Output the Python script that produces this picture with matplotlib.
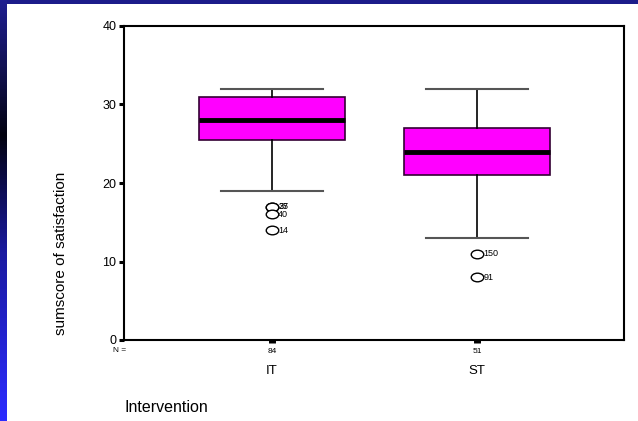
import matplotlib
matplotlib.use('Agg')
import matplotlib.pyplot as plt
import numpy as np
from matplotlib.path import Path
from matplotlib.transforms import Affine2D
from matplotlib.colors import LinearSegmentedColormap

plt.rcParams['font.family'] = ['Liberation Sans', 'DejaVu Sans']

# data
groups = ['IT', 'ST']
n_cases = [84, 51]
q1 = [25.5, 21]
medians = [28, 24]
q3 = [31, 27]
whisk_lo = [19, 13]
whisk_hi = [32, 32]
outliers = [[17, 17, 16, 14], [11, 8]]
outlier_ids = [['27', '35', '40', '14'], ['150', '91']]

W, H = 638, 421
fig = plt.figure(figsize=(W / 100, H / 100), dpi=100)
fig.patch.set_facecolor('white')

# blue slide frame: top strip and left gradient strip
top = fig.add_axes([0, 1 - 4 / H, 1, 4 / H])
top.set_axis_off()
top.add_patch(plt.Rectangle((0, 0), 1, 1, color='#1c1c8a', transform=top.transAxes))
left = fig.add_axes([0, 0, 7 / W, 1])
left.set_axis_off()
cmap = LinearSegmentedColormap.from_list(
    'frame', [(0, '#1e1e90'), (0.18, '#10104a'), (0.32, '#020210'),
              (0.6, '#1a1aa0'), (1, '#2c2cff')])
left.imshow(np.linspace(0, 1, 200).reshape(-1, 1), cmap=cmap, aspect='auto',
            extent=[0, 1, 1, 0])

ax = fig.add_axes([124 / W, 1 - 340 / H, 500 / W, 314 / H])

stats = []
for i in range(len(groups)):
    stats.append({'med': medians[i], 'q1': q1[i], 'q3': q3[i],
                  'whislo': whisk_lo[i], 'whishi': whisk_hi[i],
                  'fliers': outliers[i], 'label': groups[i]})

# ellipse marker for outliers
ell = Path.unit_circle().transformed(Affine2D().scale(1.45, 1))

ax.bxp(stats, positions=[1, 2], widths=0.71, patch_artist=True,
       boxprops=dict(facecolor='#ff00ff', edgecolor='#330033', linewidth=1.2),
       medianprops=dict(color='black', linewidth=3.5),
       whiskerprops=dict(color='black', linewidth=1.2),
       capprops=dict(color='#555555', linewidth=1.5),
       capwidths=0.5,
       flierprops=dict(marker=ell, markersize=9, markerfacecolor='white',
                       markeredgecolor='black', markeredgewidth=1.0))

# case numbers next to outliers
for i in range(len(groups)):
    for v, lab in zip(outliers[i], outlier_ids[i]):
        ax.annotate(lab, (i + 1, v), xytext=(4.5, 0), textcoords='offset points',
                    ha='left', va='center', fontsize=6.5)

ax.set_xlim(0.278, 2.717)
ax.set_ylim(0, 40)
ax.set_yticks([0, 10, 20, 30, 40])
ax.set_xticks([1, 2])
ax.set_xticklabels([str(n) for n in n_cases], fontsize=6)
ax.tick_params(axis='y', length=3.5, width=2.2, labelsize=9, pad=2)
ax.tick_params(axis='x', length=2.5, width=5, pad=3)
for s in ax.spines.values():
    s.set_linewidth(1.5)

# group names under the N counts
for i, g in enumerate(groups):
    ax.text(i + 1, -4, g, ha='center', va='center', fontsize=9.5)
fig.text(113 / W, 1 - 351 / H, 'N =', ha='left', va='center', fontsize=6)

ax.set_ylabel('sumscore of satisfaction', fontsize=11)
ax.yaxis.set_label_coords(-0.112, 0.275)
fig.text(125 / W, 1 - 407 / H, 'Intervention', fontsize=11.5, ha='left', va='center')

fig.savefig('out.png', dpi=100)
